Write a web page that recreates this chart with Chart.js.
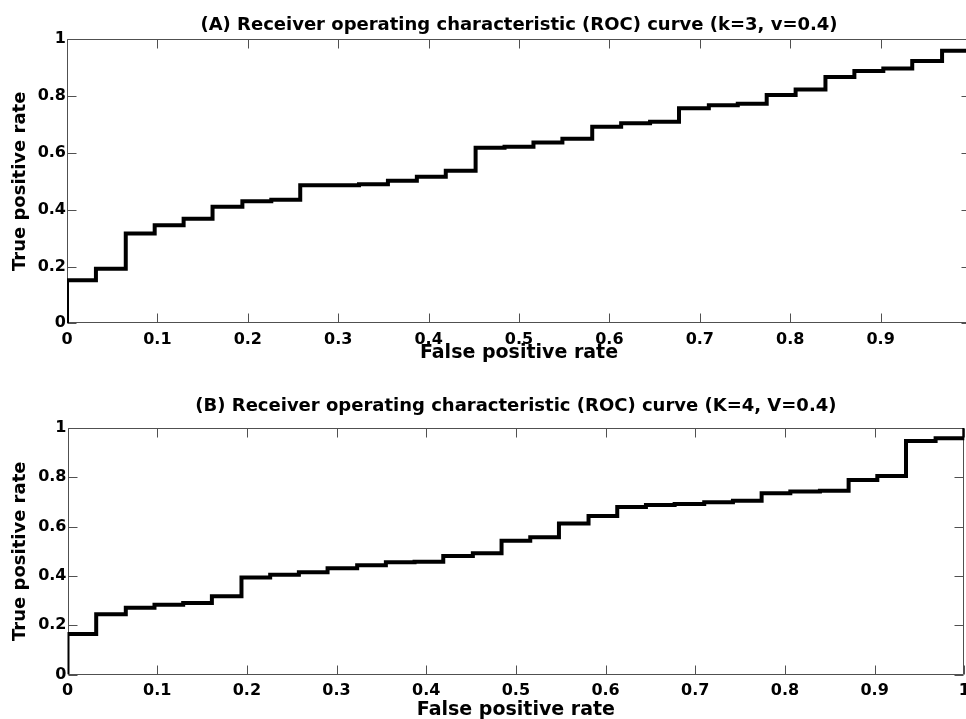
<!DOCTYPE html>
<html><head><meta charset="utf-8">
<script src="https://cdn.jsdelivr.net/npm/chart.js@4.4.0/dist/chart.umd.min.js"></script>
<style>
html,body{margin:0;padding:0;background:#fff;overflow:hidden;width:966px;height:719px;}
#wrap{position:relative;width:966px;height:719px;overflow:hidden;background:#fff;}
canvas{position:absolute;left:0;}
#cA{top:0;}
#cB{top:372px;}
</style></head><body>
<div id="wrap">
<canvas id="cA" width="990" height="380"></canvas>
<canvas id="cB" width="966" height="372"></canvas>
</div>
<script>
// ---- data ----
const titleA = '(A) Receiver operating characteristic (ROC) curve (k=3, v=0.4)';
const titleB = '(B) Receiver operating characteristic (ROC) curve (K=4, V=0.4)';
const xAxisTitle = 'False positive rate';
const yAxisTitle = 'True positive rate';
const xTickValues = [0, 0.1, 0.2, 0.3, 0.4, 0.5, 0.6, 0.7, 0.8, 0.9, 1];
const xTickLabels = ['0', '0.1', '0.2', '0.3', '0.4', '0.5', '0.6', '0.7', '0.8', '0.9', '1'];
const yTickValues = [0, 0.2, 0.4, 0.6, 0.8, 1];
const yTickLabels = ['0', '0.2', '0.4', '0.6', '0.8', '1'];

const fprA = [0, 0, 0.032, 0.065, 0.097, 0.129, 0.161, 0.194, 0.226, 0.258, 0.290, 0.323,
  0.355, 0.387, 0.419, 0.452, 0.484, 0.516, 0.548, 0.581, 0.613, 0.645, 0.677, 0.710,
  0.742, 0.774, 0.806, 0.839, 0.871, 0.903, 0.935, 0.968, 1];
const tprA = [0, 0.152, 0.192, 0.316, 0.345, 0.368, 0.410, 0.430, 0.435, 0.486, 0.486, 0.490,
  0.502, 0.516, 0.537, 0.618, 0.622, 0.637, 0.650, 0.692, 0.704, 0.710, 0.757, 0.768,
  0.773, 0.804, 0.823, 0.867, 0.888, 0.897, 0.924, 0.960, 1];

const fprB = [0, 0, 0.032, 0.065, 0.097, 0.129, 0.161, 0.194, 0.226, 0.258, 0.290, 0.323,
  0.355, 0.387, 0.419, 0.452, 0.484, 0.516, 0.548, 0.581, 0.613, 0.645, 0.677, 0.710,
  0.742, 0.774, 0.806, 0.839, 0.871, 0.903, 0.935, 0.968, 1];
const tprB = [0, 0.164, 0.244, 0.271, 0.283, 0.290, 0.317, 0.394, 0.405, 0.415, 0.431, 0.443,
  0.455, 0.457, 0.481, 0.492, 0.543, 0.557, 0.613, 0.643, 0.680, 0.688, 0.692, 0.699,
  0.705, 0.735, 0.742, 0.745, 0.789, 0.805, 0.947, 0.958, 1];

// ---- drawing ----
const FONT = "'DejaVu Sans', 'Liberation Sans', sans-serif";

const frameTicks = {
  id: 'frameTicks',
  beforeDatasetsDraw(chart, args, opts) {
    const {ctx, chartArea: a, scales: {x, y}} = chart;
    const L = Math.round(a.left) + 0.5, R = Math.round(a.right) - 0.5;
    const T = Math.round(a.top) + 0.5, B = Math.round(a.bottom) - 0.5;
    const len = opts.len;
    ctx.save();
    ctx.strokeStyle = opts.color;
    ctx.lineWidth = 1;
    ctx.beginPath();
    ctx.rect(L, T, R - L, B - T);
    x.ticks.forEach(t => {
      const px = Math.round(x.getPixelForValue(t.value)) + 0.5;
      ctx.moveTo(px, B); ctx.lineTo(px, B - len);
      ctx.moveTo(px, T); ctx.lineTo(px, T + len);
    });
    y.ticks.forEach(t => {
      const py = Math.round(y.getPixelForValue(t.value)) + 0.5;
      ctx.moveTo(L, py); ctx.lineTo(L + len, py);
      ctx.moveTo(R, py); ctx.lineTo(R - len, py);
    });
    ctx.stroke();
    ctx.restore();
  }
};

function makeChart(id, title, fpr, tpr, g) {
  const pts = fpr.map((v, i) => ({x: v, y: tpr[i]}));
  return new Chart(document.getElementById(id), {
    type: 'line',
    data: {datasets: [{
      data: pts, stepped: 'before', borderColor: '#000', borderWidth: 4,
      pointRadius: 0, fill: false, borderJoinStyle: 'miter', borderCapStyle: 'butt'
    }]},
    options: {
      responsive: false, animation: false, devicePixelRatio: 1,
      layout: {padding: {left: 0, right: g.padRight, top: 0, bottom: 0}},
      plugins: {
        legend: {display: false}, tooltip: {enabled: false},
        title: {display: true, text: title, fullSize: false, color: '#000',
          font: {family: FONT, size: 18, weight: 'bold'},
          padding: {top: g.titleTop, bottom: g.titleBottom}},
        frameTicks: {color: '#505050', len: 9}
      },
      scales: {
        x: {
          type: 'linear', min: 0, max: 1,
          grid: {display: false, drawTicks: false}, border: {display: false},
          afterBuildTicks: s => { s.ticks = xTickValues.map(v => ({value: v})); },
          afterFit: s => { s.height = g.xHeight; s.paddingLeft = 0; s.paddingRight = 0; },
          ticks: {color: '#000', font: {family: FONT, size: 16, weight: 'bold'}, padding: 7,
            autoSkip: false, maxRotation: 0, callback: (v, i) => xTickLabels[i]},
          title: {display: true, text: xAxisTitle, color: '#000',
            font: {family: FONT, size: 19, weight: 'bold'}, padding: {top: 0, bottom: g.xTitleBottom}}
        },
        y: {
          type: 'linear', min: 0, max: 1,
          grid: {display: false, drawTicks: false}, border: {display: false},
          afterBuildTicks: s => { s.ticks = yTickValues.map(v => ({value: v})); },
          afterFit: s => { s.width = g.yWidth; s.paddingTop = 0; s.paddingBottom = 0; },
          ticks: {color: '#000', font: {family: FONT, size: 16, weight: 'bold'}, padding: 1,
            autoSkip: false, callback: (v, i) => yTickLabels[i]},
          title: {display: true, text: yAxisTitle, color: '#000',
            font: {family: FONT, size: 18, weight: 'bold'}, padding: {top: g.yTitleTop, bottom: 0}}
        }
      }
    },
    plugins: [frameTicks]
  });
}

makeChart('cA', titleA, fprA, tprA, {padRight: 19, titleTop: 14.2, titleBottom: 3.5,
  xHeight: 56.7, xTitleBottom: 15.6, yWidth: 67, yTitleTop: 9.2});
makeChart('cB', titleB, fprB, tprB, {padRight: 1.7, titleTop: 23.9, titleBottom: 10.5,
  xHeight: 69.5, xTitleBottom: 22.6, yWidth: 67.5, yTitleTop: 9.2});
</script>
</body></html>
